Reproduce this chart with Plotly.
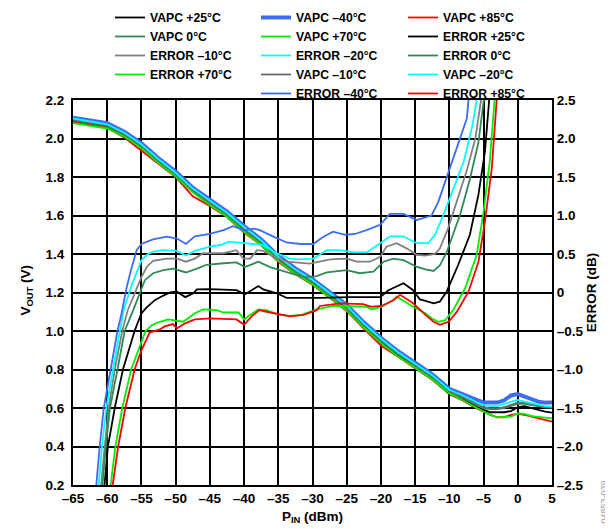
""" VAPC and ERROR vs PIN over temperature """

import plotly.graph_objects as go

# VAPC curves, all on one input power grid (dBm)
P_VAPC = [-65, -62.5, -60, -57.5, -55, -52.5, -50, -47.5, -45, -42.5, -40, -37.5, -35, -32.5,
          -30, -27.5, -25, -22.5, -20, -17.5, -15, -12.5, -10, -8, -6, -5, -4, -3, -2, -1,
          0, 1, 2, 3, 4, 5]
VAPC_M40 = [2.108, 2.092, 2.079, 2.035, 1.975, 1.897, 1.828, 1.745, 1.680, 1.620, 1.545, 1.475,
            1.390, 1.325, 1.270, 1.200, 1.135, 1.045, 0.965, 0.895, 0.835, 0.775, 0.700, 0.672,
            0.640, 0.628, 0.628, 0.628, 0.640, 0.665, 0.672, 0.659, 0.642, 0.633, 0.628, 0.628]
VAPC_M20 = [2.104, 2.088, 2.074, 2.030, 1.970, 1.892, 1.822, 1.740, 1.675, 1.614, 1.540, 1.470,
            1.385, 1.320, 1.265, 1.195, 1.130, 1.040, 0.960, 0.890, 0.830, 0.770, 0.695, 0.665,
            0.630, 0.616, 0.610, 0.610, 0.621, 0.633, 0.642, 0.633, 0.624, 0.616, 0.610, 0.607]
VAPC_M10 = [2.098, 2.083, 2.068, 2.024, 1.964, 1.886, 1.816, 1.734, 1.668, 1.608, 1.533, 1.463,
            1.378, 1.313, 1.258, 1.190, 1.122, 1.033, 0.953, 0.884, 0.824, 0.764, 0.689, 0.658,
            0.620, 0.604, 0.598, 0.598, 0.604, 0.616, 0.628, 0.628, 0.621, 0.610, 0.607, 0.604]
VAPC_0 = [2.094, 2.079, 2.064, 2.020, 1.960, 1.882, 1.812, 1.730, 1.664, 1.604, 1.528, 1.458,
          1.374, 1.309, 1.254, 1.186, 1.118, 1.029, 0.949, 0.880, 0.820, 0.760, 0.685, 0.654,
          0.615, 0.598, 0.594, 0.594, 0.600, 0.612, 0.621, 0.621, 0.615, 0.607, 0.604, 0.602]
VAPC_25 = [2.092, 2.077, 2.062, 2.018, 1.958, 1.880, 1.810, 1.728, 1.662, 1.602, 1.515, 1.455,
           1.372, 1.307, 1.252, 1.184, 1.115, 1.026, 0.945, 0.875, 0.808, 0.755, 0.672, 0.645,
           0.605, 0.590, 0.578, 0.578, 0.578, 0.584, 0.604, 0.610, 0.598, 0.590, 0.581, 0.576]
VAPC_70 = [2.080, 2.066, 2.052, 2.010, 1.950, 1.872, 1.802, 1.720, 1.654, 1.594, 1.515, 1.448,
           1.363, 1.298, 1.243, 1.175, 1.107, 1.018, 0.937, 0.868, 0.808, 0.749, 0.675, 0.640,
           0.600, 0.581, 0.564, 0.552, 0.552, 0.555, 0.572, 0.569, 0.558, 0.555, 0.552, 0.546]
VAPC_85 = [2.085, 2.070, 2.055, 2.005, 1.935, 1.865, 1.800, 1.700, 1.650, 1.592, 1.512, 1.445,
           1.360, 1.295, 1.240, 1.172, 1.104, 1.012, 0.925, 0.866, 0.806, 0.747, 0.673, 0.638,
           0.598, 0.581, 0.564, 0.552, 0.552, 0.564, 0.569, 0.564, 0.555, 0.543, 0.538, 0.529]

# ERROR curves (dB), each read at its own input powers
ERR_M40_P = [-61.9, -61.6, -61.1, -60.5, -59.5, -58.5, -57.9, -57.2, -56.5, -55.7, -55.0, -53.3,
             -51.3, -49.8, -48.5, -47.2, -45.0, -43.0, -41.6, -40.1, -38.6, -37.7, -35.7, -33.8,
             -31.8, -29.9, -28.4, -27.0, -25.2, -23.8, -22.1, -20.1, -18.7, -16.7, -14.8, -13.5,
             -12.6, -11.6, -10.6, -9.4, -8.2, -7.45, -7.1]
ERR_M40 = [-2.7, -2.5, -2.0, -1.5, -1.0, -0.5, -0.27, 0.05, 0.3, 0.55, 0.63, 0.69,
           0.725, 0.70, 0.63, 0.73, 0.76, 0.81, 0.86, 0.81, 0.83, 0.81, 0.725, 0.65,
           0.63, 0.63, 0.725, 0.79, 0.75, 0.76, 0.81, 0.88, 1.02, 1.02, 0.94, 0.97,
           1.0, 1.18, 1.44, 1.74, 2.05, 2.26, 2.6]
ERR_M20_P = [-61.6, -61.25, -60.76, -60.13, -59.15, -58.2, -57.6, -56.6, -55.7, -55.0, -54.2,
             -53.3, -51.8, -49.8, -48.5, -47.2, -45.0, -43.3, -42.3, -41.1, -39.1, -37.4, -35.2,
             -33.3, -31.8, -29.9, -27.9, -26.0, -24.0, -22.1, -20.1, -18.7, -16.7, -14.8, -13.1,
             -12.1, -10.9, -9.4, -7.9, -6.7, -6.0, -5.8]
ERR_M20 = [-2.7, -2.5, -2.0, -1.5, -1.0, -0.5, -0.23, 0.05, 0.25, 0.42, 0.49,
           0.53, 0.55, 0.54, 0.48, 0.54, 0.595, 0.62, 0.66, 0.65, 0.64, 0.62, 0.51,
           0.44, 0.43, 0.44, 0.55, 0.55, 0.52, 0.52, 0.64, 0.73, 0.73, 0.64, 0.64,
           0.75, 1.0, 1.35, 1.70, 2.14, 2.48, 2.6]
ERR_M10_P = [-61.2, -60.9, -60.37, -59.8, -58.9, -57.8, -57.0, -56.0, -55.0, -54.2, -53.3, -51.3,
             -49.8, -48.5, -47.2, -46.0, -43.0, -41.1, -40.1, -39.1, -38.1, -37.2, -35.7, -33.8,
             -30.4, -27.4, -25.0, -23.5, -21.6, -20.1, -19.2, -17.7, -16.2, -14.8, -13.5,
             -12.1, -11.4, -10.2, -8.9, -7.5, -6.2, -5.4, -5.2]
ERR_M10 = [-2.7, -2.5, -2.0, -1.5, -1.0, -0.5, -0.23, -0.02, 0.2, 0.335, 0.41, 0.44,
           0.44, 0.40, 0.44, 0.51, 0.51, 0.55, 0.44, 0.44, 0.55, 0.54, 0.465, 0.40,
           0.375, 0.43, 0.44, 0.40, 0.40, 0.465, 0.595, 0.64, 0.57, 0.49, 0.48,
           0.5, 0.57, 0.83, 1.18, 1.57, 2.0, 2.48, 2.6]
ERR_0_P = [-61.0, -60.7, -60.2, -59.6, -58.5, -57.45, -56.2, -55.3, -54.5, -53.3, -51.8, -50.3,
           -48.5, -46.9, -45.5, -43.0, -41.1, -39.9, -37.9, -36.2, -33.8, -31.3, -29.5, -27.9,
           -25.0, -23.1, -21.1, -19.6, -18.2, -16.7, -14.8, -13.5, -12.3, -11.4, -10.4, -9.7,
           -8.4, -7.0, -5.75, -5.0, -4.8]
ERR_0 = [-2.7, -2.5, -2.0, -1.5, -1.0, -0.5, -0.23, -0.02, 0.16, 0.25, 0.29, 0.31,
         0.26, 0.31, 0.36, 0.38, 0.39, 0.33, 0.40, 0.33, 0.27, 0.20, 0.21, 0.26,
         0.29, 0.25, 0.27, 0.40, 0.44, 0.42, 0.335, 0.30, 0.28, 0.35, 0.52, 0.70,
         1.02, 1.47, 1.95, 2.48, 2.6]
ERR_25_P = [-60.6, -60.4, -59.9, -58.9, -57.7, -56.0, -55.0, -54.3, -53.05, -51.8, -50.8, -49.8,
            -48.6, -47.4, -46.9, -45.0, -42.1, -41.1, -39.9, -39.1, -37.9, -37.2, -35.2, -33.8,
            -30.4, -28.9, -24.5, -20.1, -18.9, -16.7, -15.3, -14.3, -13.5, -12.3, -11.4, -10.4,
            -8.7, -7.0, -5.75, -4.8, -4.2, -4.1]
ERR_25 = [-2.7, -2.5, -2.0, -1.5, -1.0, -0.5, -0.27, -0.2, -0.1, -0.04, 0.0, 0.01,
          -0.06, -0.01, 0.04, 0.045, 0.03, 0.03, -0.025, 0.02, 0.085, 0.04, -0.01, -0.07,
          -0.075, -0.07, -0.06, -0.06, 0.03, 0.12, 0.03, -0.09, -0.11, -0.14, -0.12, 0.01,
          0.36, 0.75, 1.27, 1.83, 2.48, 2.6]
ERR_70_P = [-59.7, -59.5, -58.8, -57.8, -56.5, -55.2, -54.4, -53.4, -52.3, -51.1, -49.8, -48.9,
            -47.2, -46.0, -44.0, -43.0, -40.8, -40.0, -39.1, -37.9, -36.7, -35.2, -33.3, -31.6,
            -29.4, -27.0, -22.1, -21.4, -19.9, -18.2, -17.7, -15.3, -13.5, -12.6, -11.6, -10.6,
            -9.4, -7.7, -6.0, -5.0, -4.1, -3.4, -3.3]
ERR_70 = [-2.7, -2.5, -2.0, -1.5, -1.0, -0.7, -0.5, -0.42, -0.38, -0.35, -0.365, -0.38,
          -0.27, -0.22, -0.23, -0.26, -0.26, -0.35, -0.29, -0.22, -0.23, -0.28, -0.305, -0.29,
          -0.22, -0.175, -0.185, -0.22, -0.185, -0.10, -0.055, -0.185, -0.27, -0.335, -0.38, -0.36,
          -0.22, 0.055, 0.49, 1.05, 1.70, 2.48, 2.6]
ERR_85_P = [-59.4, -59.2, -58.4, -57.35, -56.0, -55.0, -53.8, -52.3, -51.6, -50.4, -49.8, -48.6,
            -47.2, -45.0, -41.1, -40.0, -38.9, -37.8, -36.7, -34.7, -33.3, -31.3, -29.4, -28.9,
            -26.0, -22.6, -21.4, -19.9, -18.2, -17.2, -15.3, -13.5, -12.3, -11.4, -10.1, -8.9,
            -7.2, -5.75, -4.8, -3.8, -3.1, -3.0]
ERR_85 = [-2.7, -2.5, -2.0, -1.5, -1.0, -0.75, -0.52, -0.48, -0.44, -0.41, -0.465, -0.40,
          -0.35, -0.335, -0.35, -0.42, -0.31, -0.23, -0.25, -0.29, -0.31, -0.29, -0.23, -0.175,
          -0.14, -0.15, -0.185, -0.175, -0.10, -0.03, -0.14, -0.29, -0.38, -0.42, -0.38, -0.25,
          0.01, 0.40, 0.92, 1.61, 2.48, 2.6]

X_TICKS = [-65, -60, -55, -50, -45, -40, -35, -30, -25, -20, -15, -10, -5, 0, 5]
X_LABELS = ["–65", "–60", "–55", "–50", "–45", "–40", "–35", "–30", "–25", "–20", "–15", "–10",
            "–5", "0", "5"]
Y_TICKS = [0.2, 0.4, 0.6, 0.8, 1.0, 1.2, 1.4, 1.6, 1.8, 2.0, 2.2]
Y_LABELS = ["0.2", "0.4", "0.6", "0.8", "1.0", "1.2", "1.4", "1.6", "1.8", "2.0", "2.2"]
Y2_TICKS = [-2.5, -2.0, -1.5, -1.0, -0.5, 0, 0.5, 1.0, 1.5, 2.0, 2.5]
Y2_LABELS = ["–2.5", "–2.0", "–1.5", "–1.0", "–0.5", "0", "0.5", "1.0", "1.5", "2.0", "2.5"]

BLACK = "#000000"
BLUE = "#3c6cf2"
RED = "#ff0000"
SEA = "#2e8b57"
LIME = "#00ee00"
GRAY = "#808080"
DIMGRAY = "#6a6a6a"
CYAN = "#00ffff"
FONT = "Liberation Sans, Arial, sans-serif"

fig = go.Figure()

def add_line(x, y, name, color, legend, axis="y", width=1.8):
    fig.add_trace(go.Scatter(x=x, y=y, name=name, mode="lines", yaxis=axis, legend=legend,
                             line=dict(color=color, width=width)))

# same order as the legend reads, row by row
add_line(P_VAPC, VAPC_25, "VAPC +25°C", BLACK, "legend")
add_line(P_VAPC, VAPC_M40, "VAPC –40°C", BLUE, "legend2", width=4)
add_line(P_VAPC, VAPC_85, "VAPC +85°C", RED, "legend3")
add_line(P_VAPC, VAPC_0, "VAPC 0°C", SEA, "legend")
add_line(P_VAPC, VAPC_70, "VAPC +70°C", LIME, "legend2")
add_line(ERR_25_P, ERR_25, "ERROR +25°C", BLACK, "legend3", "y2")
add_line(ERR_M10_P, ERR_M10, "ERROR –10°C", GRAY, "legend", "y2")
add_line(ERR_M20_P, ERR_M20, "ERROR –20°C", CYAN, "legend2", "y2")
add_line(ERR_0_P, ERR_0, "ERROR 0°C", SEA, "legend3", "y2")
add_line(ERR_70_P, ERR_70, "ERROR +70°C", LIME, "legend", "y2")
add_line(P_VAPC, VAPC_M10, "VAPC –10°C", DIMGRAY, "legend2")
add_line(P_VAPC, VAPC_M20, "VAPC –20°C", CYAN, "legend3")
add_line(ERR_M40_P, ERR_M40, "ERROR –40°C", BLUE, "legend2", "y2")
add_line(ERR_85_P, ERR_85, "ERROR +85°C", RED, "legend3", "y2")

tick_font = dict(family=FONT, size=13.5, color=BLACK, weight="bold")
title_font = dict(family=FONT, size=13.5, color=BLACK, weight="bold")
axis_style = dict(showgrid=True, gridcolor=BLACK, gridwidth=1.5, showline=True, linecolor=BLACK,
                  linewidth=2, zeroline=False, ticks="", tickfont=tick_font, automargin=False)

# the page body adds 8 px around the figure, so the figure is 8 px smaller each way
fig.update_layout(
    width=605, height=521,
    margin=dict(l=65, r=61, t=92, b=44, autoexpand=False),
    paper_bgcolor="white", plot_bgcolor="white",
    font=dict(family=FONT, color=BLACK),
    xaxis=dict(range=[-65, 5], tickvals=X_TICKS, ticktext=X_LABELS, mirror=True,
               title=dict(text="P<sub>IN</sub> (dBm)", font=title_font, standoff=6), **axis_style),
    yaxis=dict(range=[0.2, 2.2], tickvals=Y_TICKS, ticktext=Y_LABELS, ticklabelstandoff=4,
               **axis_style),
    yaxis2=dict(range=[-2.5, 2.5], tickvals=Y2_TICKS, ticktext=Y2_LABELS, overlaying="y",
                side="right", showgrid=False, showline=True, linecolor=BLACK, linewidth=2,
                zeroline=False, ticks="", tickfont=tick_font,
                title=dict(text="ERROR (dB)", font=title_font, standoff=4)),
)

# three legend columns above the plot
leg = dict(orientation="v", xref="paper", yref="paper", xanchor="left", yanchor="top",
           y=1.252, bgcolor="rgba(0,0,0,0)", tracegroupgap=0, itemwidth=30,
           font=dict(family=FONT, size=12.2, color=BLACK, weight="bold"))
fig.update_layout(legend=dict(leg, x=0.0773), legend2=dict(leg, x=0.382),
                  legend3=dict(leg, x=0.689))

# left axis title and the figure code
fig.add_annotation(text="V<sub>OUT</sub> (V)", xref="paper", yref="paper", x=-0.096, y=0.505,
                   xanchor="center", yanchor="middle", textangle=-90, showarrow=False,
                   font=title_font)
fig.add_annotation(text="04853-039", xref="paper", yref="paper", x=1.109, y=-0.045,
                   xanchor="center", yanchor="middle", textangle=-90, showarrow=False,
                   font=dict(family=FONT, size=9, color="#a0a0a0"))

fig.write_html("out.html")
